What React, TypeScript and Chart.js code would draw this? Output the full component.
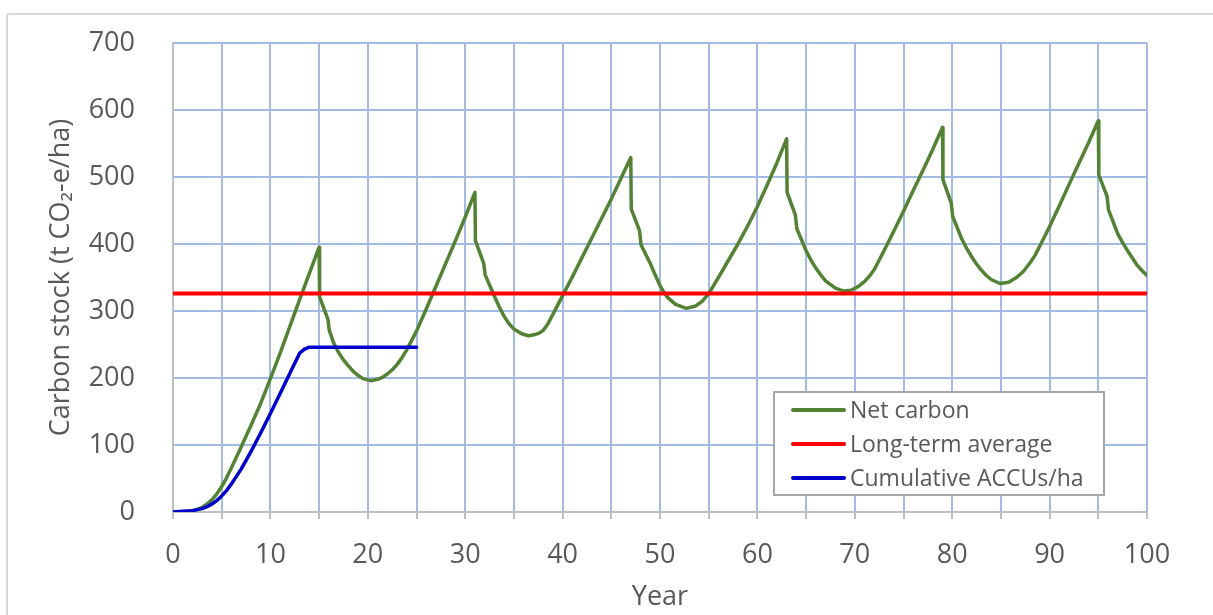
import { useEffect, useRef } from "react";
import { Chart, registerables } from "chart.js";

Chart.register(...registerables);

// ---------- data ----------
const netYears = [
  0, 0.5, 1, 1.5, 2, 2.5, 3, 3.5, 4, 4.5, 5, 5.5, 6, 7, 8, 9, 10, 11, 12, 13, 14, 15,
  15.05, 15.9, 16.05, 16.5, 17, 17.5, 18, 18.5, 19, 19.5, 20.3, 21, 21.5, 22, 22.5, 23, 23.5, 24, 25, 26, 27, 28, 29, 30, 31,
  31.05, 31.9, 32.05, 33, 33.5, 34, 34.5, 35, 35.8, 36.5, 37.2, 37.6, 38, 38.5, 39, 40, 41, 42, 43, 44, 45, 46, 47,
  47.05, 47.9, 48.05, 49, 49.5, 50, 50.4, 50.8, 51.6, 52.7, 53.6, 54.3, 55, 56, 57, 58, 59, 60, 61, 62, 63,
  63.05, 63.9, 64.05, 65, 65.5, 66, 66.5, 67, 68, 68.8, 69.6, 70.3, 71, 71.5, 72, 73, 74, 75, 76, 77, 78, 79,
  79.05, 79.9, 80.05, 81, 81.5, 82, 82.5, 83, 83.5, 84, 84.9, 85.8, 86.6, 87.3, 88, 88.5, 89, 90, 91, 92, 93, 94, 95,
  95.05, 95.9, 96.05, 97, 97.5, 98, 98.5, 99, 99.5, 100,
];
const netCarbon = [
  0, 0.2, 0.5, 1, 2, 4, 7, 12, 18, 27, 38, 51, 66, 97, 129, 162, 199, 237, 277, 317, 356, 395,
  321, 288, 271, 252, 238, 227, 218, 210, 204, 199, 196, 198, 201, 206, 212, 220, 230, 242, 270, 303, 337, 371, 405, 440, 477,
  405, 371, 354, 322, 306, 292, 281, 273, 266, 263, 265, 267, 271, 281, 295, 323, 351, 380, 409, 438, 467, 498, 529,
  452, 420, 399, 371, 354, 338, 328, 320, 310, 304, 307, 314, 326, 350, 375, 400, 427, 456, 488, 521, 557,
  477, 443, 423, 390, 376, 364, 354, 345, 334, 330, 331, 336, 344, 352, 362, 390, 419, 449, 480, 510, 541, 574,
  496, 461, 441, 407, 393, 381, 370, 361, 353, 347, 341, 343, 350, 359, 372, 383, 397, 426, 457, 489, 520, 551, 584,
  503, 471, 451, 415, 402, 390, 379, 368, 360, 353,
];

const averageYears = [0, 100];
const averageValues = [326, 326];

const accuYears = [0, 1, 2, 2.5, 3, 3.5, 4, 4.5, 5, 5.5, 6, 7, 8, 9, 10, 11, 12, 13, 13.5, 14, 25];
const accuValues = [0, 1, 2, 3.5, 5, 8, 12, 17, 24, 32, 42, 64, 90, 118, 147, 177, 207, 237, 243, 246, 246];

const seriesLabels = ["Net carbon", "Long-term average", "Cumulative ACCUs/ha"];
const seriesColors = ["#548235", "#FF0000", "#0000CC"];

const xAxisTitle = "Year";
const yAxisTitle = "Carbon stock (t CO\u2082-e/ha)";

const xMin = 0;
const xMax = 100;
const xStep = 5;
const xLabelEvery = 10;
const yMin = 0;
const yMax = 700;
const yStep = 100;

// ---------- styles ----------
const FONT = "'Open Sans', 'DejaVu Sans', sans-serif";
const TEXT = "#595959";
const GRID = "#A3BBE3";
const AXIS = "#BFBFBF";

const toPoints = (xs: number[], ys: number[]) => xs.map((x, i) => ({ x, y: ys[i] }));

const insideLegend = {
  id: "insideLegend",
  afterDraw(chart: any) {
    const ctx = chart.ctx as CanvasRenderingContext2D;
    const box = { x: 774, y: 392, w: 330, h: 103 };
    ctx.save();
    ctx.fillStyle = "#FFFFFF";
    ctx.fillRect(box.x, box.y, box.w, box.h);
    ctx.strokeStyle = "#A6A6A6";
    ctx.lineWidth = 2;
    ctx.strokeRect(box.x, box.y, box.w, box.h);
    ctx.font = `23px ${FONT}`;
    ctx.textBaseline = "middle";
    ctx.textAlign = "left";
    chart.data.datasets.forEach((ds: any, i: number) => {
      const cy = box.y + 18 + i * 34;
      ctx.strokeStyle = ds.borderColor;
      ctx.lineWidth = 4;
      ctx.lineCap = "round";
      ctx.beginPath();
      ctx.moveTo(793, cy);
      ctx.lineTo(844, cy);
      ctx.stroke();
      ctx.fillStyle = TEXT;
      ctx.fillText(ds.label, 850, cy + 1);
    });
    ctx.restore();
  },
};

export default function App() {
  const canvasRef = useRef<HTMLCanvasElement | null>(null);

  useEffect(() => {
    if (!canvasRef.current) return;
    const chart = new Chart(canvasRef.current, {
      type: "line",
      data: {
        datasets: [
          {
            label: seriesLabels[0],
            data: toPoints(netYears, netCarbon),
            borderColor: seriesColors[0],
            borderWidth: 3.5,
            pointRadius: 0,
            tension: 0,
            borderJoinStyle: "round",
            borderCapStyle: "round",
            order: 3,
          },
          {
            label: seriesLabels[1],
            data: toPoints(averageYears, averageValues),
            borderColor: seriesColors[1],
            borderWidth: 4,
            pointRadius: 0,
            order: 2,
          },
          {
            label: seriesLabels[2],
            data: toPoints(accuYears, accuValues),
            borderColor: seriesColors[2],
            borderWidth: 3.5,
            pointRadius: 0,
            tension: 0,
            borderJoinStyle: "round",
            borderCapStyle: "round",
            order: 1,
          },
        ],
      },
      options: {
        responsive: false,
        animation: false,
        events: [],
        layout: { padding: { top: 43, right: 66, left: 0, bottom: 0 } },
        plugins: {
          legend: { display: false },
          tooltip: { enabled: false },
        },
        scales: {
          x: {
            type: "linear",
            min: xMin,
            max: xMax,
            afterFit: (s: any) => {
              s.height = 103;
            },
            ticks: {
              stepSize: xStep,
              autoSkip: false,
              maxRotation: 0,
              padding: 20,
              color: TEXT,
              font: { family: FONT, size: 27 },
              callback: (v: any) => (Number(v) % xLabelEvery === 0 ? String(v) : ""),
            },
            grid: {
              color: (c: any) => (c.tick && c.tick.value === xMin ? "rgba(0,0,0,0)" : GRID),
              lineWidth: 2,
              tickLength: 7,
              tickColor: AXIS,
              tickWidth: 2,
              drawTicks: true,
            },
            border: { color: AXIS, width: 2 },
            title: {
              display: true,
              text: xAxisTitle,
              color: TEXT,
              font: { family: FONT, size: 27, lineHeight: 1 },
              padding: { top: 0, bottom: 4 },
            },
          },
          y: {
            type: "linear",
            min: yMin,
            max: yMax,
            afterFit: (s: any) => {
              s.width = 173;
              s.paddingTop = 0;
              s.paddingBottom = 0;
            },
            ticks: {
              stepSize: yStep,
              padding: 38,
              color: TEXT,
              font: { family: FONT, size: 27 },
            },
            grid: {
              color: (c: any) => (c.tick && c.tick.value === yMin ? "rgba(0,0,0,0)" : GRID),
              lineWidth: 2,
              drawTicks: false,
            },
            border: { color: AXIS, width: 2 },
            title: {
              display: true,
              text: yAxisTitle,
              color: TEXT,
              font: { family: FONT, size: 27, lineHeight: 1 },
              padding: { top: 48, bottom: 0 },
            },
          },
        },
      },
      plugins: [insideLegend],
    } as any);
    return () => chart.destroy();
  }, []);

  return (
    <div
      style={{
        position: "fixed",
        left: 0,
        top: 0,
        width: 1213,
        height: 615,
        overflow: "hidden",
        background: "#FFFFFF",
      }}
    >
      <div
        style={{
          position: "absolute",
          left: 6,
          top: 13,
          width: 1400,
          height: 800,
          border: "2px solid #D9D9D9",
          borderRadius: 3,
          boxSizing: "border-box",
        }}
      />
      <canvas
        ref={canvasRef}
        width={1213}
        height={615}
        style={{ position: "absolute", left: 0, top: 0, width: 1213, height: 615 }}
      />
    </div>
  );
}
